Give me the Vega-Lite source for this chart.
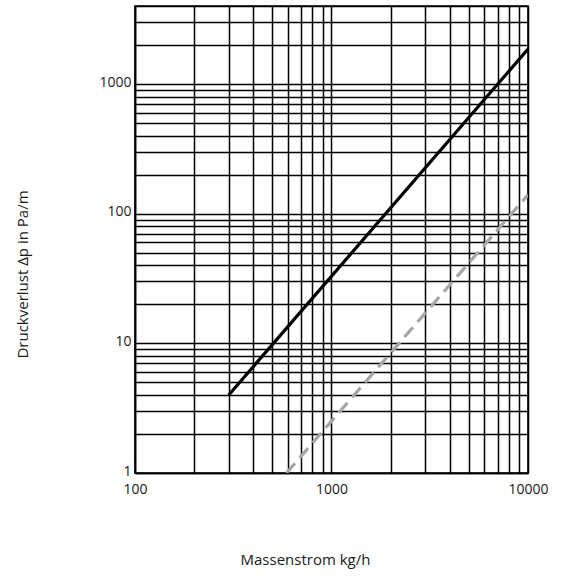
{
  "$schema": "https://vega.github.io/schema/vega-lite/v6.json",
  "width": 393,
  "height": 467,
  "autosize": {"type": "none"},
  "padding": {"left": 135, "top": 6, "right": 33, "bottom": 105},
  "background": "white",
  "config": {
    "view": {"stroke": "black", "strokeWidth": 1.6},
    "font": "Open Sans, sans-serif",
    "axis": {
      "grid": true,
      "gridColor": "black",
      "gridOpacity": 1,
      "gridWidth": 1.5,
      "ticks": false,
      "domain": true,
      "domainColor": "black",
      "domainWidth": 1.6,
      "labelColor": "#1a1a1a",
      "labelFontSize": 14,
      "labelFont": "Open Sans, sans-serif",
      "titleFont": "Open Sans, sans-serif",
      "titleFontWeight": "normal",
      "titleFontSize": 15,
      "titleColor": "#1a1a1a"
    }
  },
  "datasets": {
    "lines": [
      {"m": 300, "dp": 4, "series": "A"},
      {"m": 10000, "dp": 1860, "series": "A"},
      {"m": 590, "dp": 1, "series": "B"},
      {"m": 10000, "dp": 140, "series": "B"}
    ]
  },
  "data": {"name": "lines"},
  "layer": [
    {
      "transform": [{"filter": "datum.series == 'A'"}],
      "mark": {"type": "line", "color": "black", "strokeWidth": 3.2, "clip": true},
      "encoding": {
        "x": {
          "field": "m", "type": "quantitative",
          "scale": {"type": "log", "domain": [100, 10000], "nice": false},
          "axis": {
            "title": "Massenstrom kg/h",
            "titlePadding": 56,
            "titleX": 170,
            "labelPadding": 9,
            "labelFlush": false,
            "labelOverlap": false,
            "values": [100,200,300,400,500,600,700,800,900,1000,2000,3000,4000,5000,6000,7000,8000,9000,10000],
            "labelExpr": "(datum.value == 100 || datum.value == 1000 || datum.value == 10000) ? format(datum.value, 'd') : ''"
          }
        },
        "y": {
          "field": "dp", "type": "quantitative",
          "scale": {"type": "log", "domain": [1, 4000], "nice": false},
          "axis": {
            "title": "Druckverlust Δp in Pa/m",
            "titlePadding": 68,
            "titleY": 268,
            "labelPadding": 4,
            "labelOffset": -2,
            "labelFlush": false,
            "labelOverlap": false,
            "values": [1,2,3,4,5,6,7,8,9,10,20,30,40,50,60,70,80,90,100,200,300,400,500,600,700,800,900,1000,2000,3000,4000],
            "labelExpr": "(datum.value == 1 || datum.value == 10 || datum.value == 100 || datum.value == 1000) ? format(datum.value, 'd') : ''"
          }
        }
      }
    },
    {
      "transform": [{"filter": "datum.series == 'B'"}],
      "mark": {"type": "line", "color": "#a6a6a6", "strokeWidth": 3.2, "strokeDash": [13, 7], "clip": true},
      "encoding": {
        "x": {"field": "m", "type": "quantitative"},
        "y": {"field": "dp", "type": "quantitative"}
      }
    }
  ]
}
